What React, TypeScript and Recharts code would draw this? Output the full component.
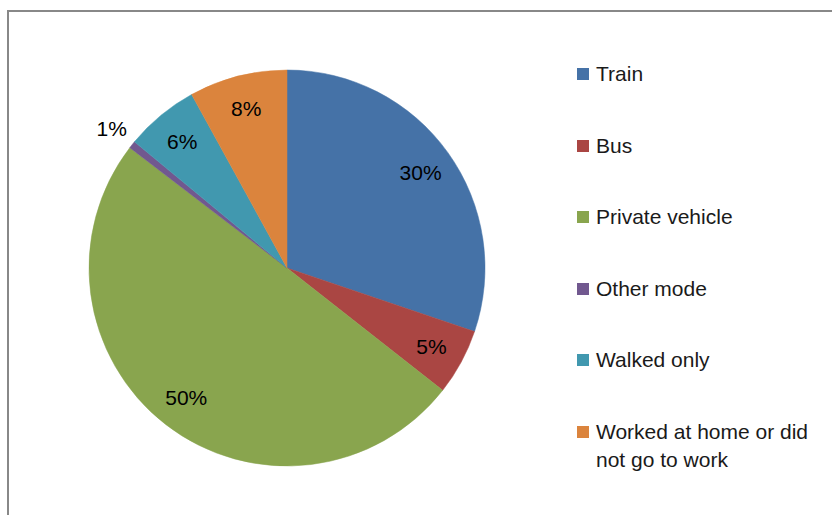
import { PieChart, Pie, Cell, Legend } from 'recharts'

const modes = ['Train', 'Bus', 'Private vehicle', 'Other mode', 'Walked only', 'Worked at home or did not go to work']
const shares = [30.2, 5.4, 49.8, 0.6, 6.0, 8.0]
const colors = ['#4572A7', '#AA4643', '#89A54E', '#71588F', '#4198AF', '#DB843D']

const data = modes.map((name, i) => ({ name, value: shares[i] }))

const RADIAN = Math.PI / 180
const FONT = '"Liberation Sans", Arial, sans-serif'

// eslint-disable-next-line @typescript-eslint/no-explicit-any
function renderLabel({ cx, cy, midAngle, outerRadius, percent, index }: any) {
  // tiny slices get their label outside the pie, like Excel does
  const r = percent < 0.02 ? outerRadius + 26 : outerRadius * 0.83
  const x = cx + r * Math.cos(-midAngle * RADIAN)
  const y = cy + r * Math.sin(-midAngle * RADIAN)
  return (
    <text
      key={index}
      x={x}
      y={y}
      fill="#000"
      fontSize={21}
      fontFamily={FONT}
      textAnchor="middle"
      dominantBaseline="central"
    >
      {Math.round(percent * 100)}%
    </text>
  )
}

function LegendList() {
  return (
    <ul style={{ listStyle: 'none', margin: 0, padding: 0, fontFamily: FONT }}>
      {modes.map((m, i) => (
        <li key={m} style={{ display: 'flex', alignItems: 'flex-start', marginBottom: 43.6 }}>
          <span
            style={{
              width: 12,
              height: 12,
              background: colors[i],
              marginTop: 8,
              marginRight: 7,
              flex: '0 0 auto',
            }}
          />
          <span style={{ fontSize: 21, lineHeight: '28px', color: '#1a1a1a', width: 232 }}>{m}</span>
        </li>
      ))}
    </ul>
  )
}

export default function App() {
  return (
    <div style={{ position: 'absolute', left: 0, top: 0, width: 832, height: 515, overflow: 'hidden', background: '#fff' }}>
      <div
        style={{
          position: 'absolute',
          left: 7,
          top: 10,
          width: 900,
          height: 600,
          borderLeft: '2px solid #888',
          borderTop: '2px solid #888',
        }}
      />
      <div style={{ position: 'absolute', left: 0, top: 0 }}>
        <PieChart width={832} height={515} margin={{ top: 0, right: 0, bottom: 0, left: 0 }}>
          <Pie
            data={data}
            dataKey="value"
            nameKey="name"
            cx={287}
            cy={268}
            outerRadius={198}
            startAngle={90}
            endAngle={-270}
            label={renderLabel}
            labelLine={false}
            isAnimationActive={false}
          >
            {data.map((d, i) => (
              <Cell key={d.name} fill={colors[i]} stroke={colors[i]} strokeWidth={0.5} />
            ))}
          </Pie>
          <Legend
            layout="vertical"
            content={<LegendList />}
            wrapperStyle={{ left: 577, top: 60, width: 255 }}
          />
        </PieChart>
      </div>
    </div>
  )
}
